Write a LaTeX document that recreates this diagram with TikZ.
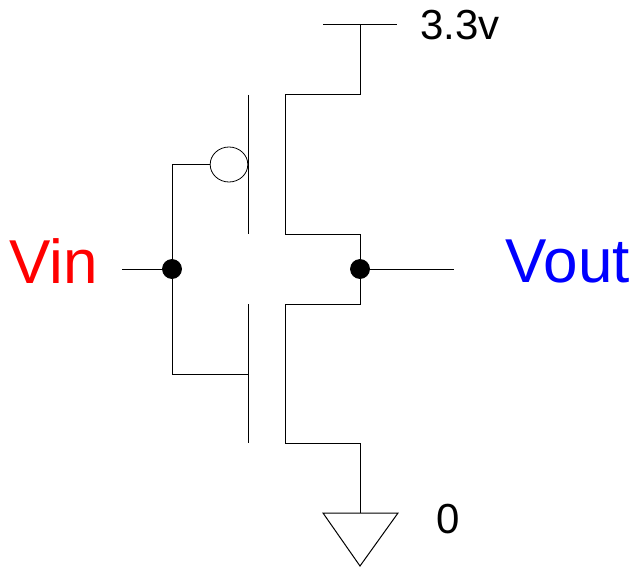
\documentclass[tikz,border=0pt]{standalone}
\usepackage{fontspec}
\setmainfont{Liberation Sans}
\usetikzlibrary{positioning,calc,shapes.geometric}

\begin{document}
\begin{tikzpicture}[
    x=0.5pt, y=-0.5pt,
    wire/.style={draw, line width=0.5pt},
    junction/.style={circle, fill=black, draw=black, inner sep=0pt, minimum size=9.5pt},
    bubble/.style={ellipse, draw, line width=0.4pt, inner sep=0pt, minimum width=18.8pt, minimum height=17.5pt},
    biglabel/.style={inner sep=0pt, font=\fontsize{31}{31}\selectfont},
    smalllabel/.style={inner sep=0pt, font=\fontsize{21}{21}\selectfont}
]
\useasboundingbox (0,0) rectangle (636,567);

% Junctions and bubble
\node[junction] (vinj) at (172,269) {};
\node[junction] (voutj) at (360,269) {};
\node[bubble] (pgate) at (229,164.5) {};

% Rails
\coordinate (vddl) at (323,25);
\coordinate (vddr) at (397,25);
\coordinate (vdd) at (360,25);
\coordinate (gndl) at (323,513);
\coordinate (gndr) at (398,513);
\coordinate (gnd) at (360,513);
\coordinate (gndtip) at (360,566);

% Pmos
\coordinate (ps) at (285,95);
\coordinate (pd) at (285,234);
\coordinate (pgt) at (248,95);
\coordinate (pgb) at (248,234);

% Nmos
\coordinate (nd) at (285,304);
\coordinate (ns) at (285,443);
\coordinate (ngt) at (248,304);
\coordinate (ngb) at (248,443);
\coordinate (ngate) at (248,374);

% Free wire ends
\coordinate (vinl) at (122,269);
\coordinate (voutr) at (454,269);

% Labels
\node[biglabel, text=red] (vin) at (54,261) {Vin};
\node[biglabel, text=blue] (vout) at (568,261) {Vout};
\node[smalllabel] (vddlabel) at (460,25) {3.3v};
\node[smalllabel] (gndlabel) at (448,519) {0};

% Wires
\draw[wire] (vddl) -- (vddr);
\draw[wire] (vdd) |- (ps) -- (pd) -| (voutj);
\draw[wire] (voutj) |- (nd) -- (ns) -| (gnd);
\draw[wire] (pgt) -- (pgb);
\draw[wire] (ngt) -- (ngb);
\draw[wire] (pgate.west) -| (vinj);
\draw[wire] (vinj) |- (ngate);
\draw[wire] (vinl) -- (vinj);
\draw[wire] (voutj) -- (voutr);
\draw[wire] (gndl) -- (gndr) -- (gndtip) -- cycle;

\end{tikzpicture}
\end{document}
